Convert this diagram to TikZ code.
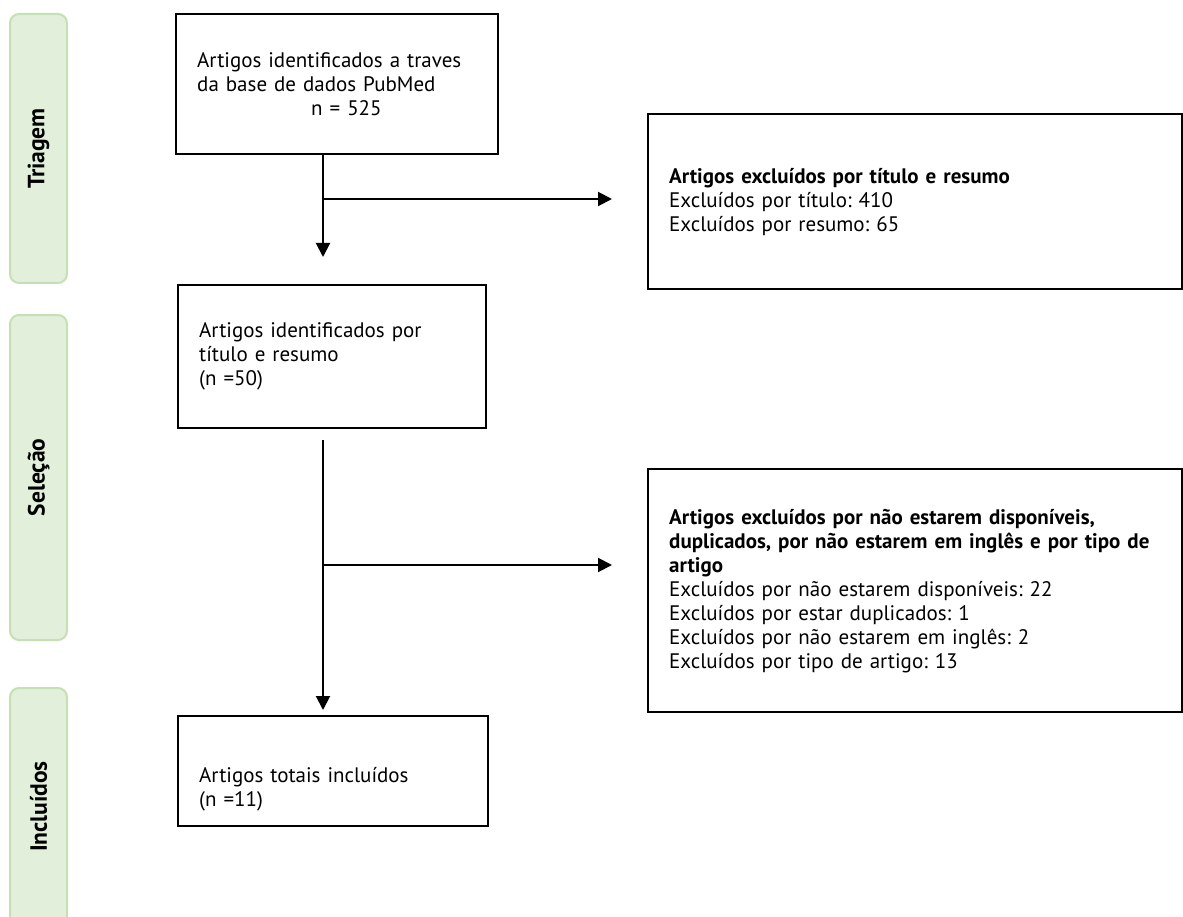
\documentclass[tikz,border=0pt]{standalone}
\usepackage{fontspec}
\setmainfont{PT Sans}
\frenchspacing
\usetikzlibrary{arrows.meta}
\definecolor{barfill}{HTML}{E2EFDA}
\definecolor{barline}{HTML}{C5E0B4}
\tikzset{pbar/.style={
  draw=barline,
  fill=barfill,
  line width=2pt,
  rounded corners=9pt,
  rotate=90,
  minimum height=57pt,
  font=\fontsize{23.5}{26}\selectfont\bfseries}}
\tikzset{pbox/.style={
  draw=black,
  line width=2.4pt,
  anchor=north west,
  inner xsep=21pt,
  align=left,
  font=\fontsize{21}{24}\selectfont}}
\tikzset{parrow/.style={
  line width=2pt,
  -{Triangle[length=14pt,width=14pt]}}}

\begin{document}
\begin{tikzpicture}[x=1pt,y=-1pt]

  %%%% Page frame %%%%
  \useasboundingbox (0,0) rectangle (1183,917);
  \clip (0,0) rectangle (1183,917);

  %% Phase bars on the left
  \node[pbar, minimum width=269pt] (triagem) at (38.5,148.5) {Triagem};
  \node[pbar, minimum width=325pt] (selecao) at (38.5,477.5) {Seleção};
  \node[pbar, minimum width=237pt] (incluidos) at (38.5,806.5) {Incluídos};

  %% Main column
  \node[pbox, text width=280pt, minimum height=140pt] (ident) at (175,13)
    {Artigos identificados a traves\\da base de dados PubMed\\\hspace*{114pt}n = 525};
  \node[pbox, text width=266pt, minimum height=143pt] (sel) at (177,284)
    {Artigos identificados por\\título e resumo\\(n =50)};
  \node[pbox, text width=268pt, minimum height=110pt] (incl) at (177,715)
    {\rule{0pt}{52pt}Artigos totais incluídos\\(n =11)};

  %% Excluded articles
  \node[pbox, text width=492pt, minimum height=175pt] (excl1) at (647,113)
    {\textbf{Artigos excluídos por título e resumo}\\
     Excluídos por título: 410\\
     Excluídos por resumo: 65};
  \node[pbox, text width=492pt, minimum height=243pt] (excl2) at (647,468)
    {\textbf{Artigos excluídos por não estarem disponíveis,}\\
     \textbf{duplicados, por não estarem em inglês e por tipo de}\\
     \textbf{artigo}\\
     Excluídos por não estarem disponíveis: 22\\
     Excluídos por estar duplicados: 1\\
     Excluídos por não estarem em inglês: 2\\
     Excluídos por tipo de artigo: 13};

  %% Connectors
  \coordinate (spine) at (323,0);
  \coordinate (fork1) at (323,199);
  \coordinate (fork2) at (323,565);
  \draw[parrow, shorten >=27pt] (ident.south -| spine) -- (sel.north -| spine);
  \draw[parrow, shorten >=35pt] (fork1) -- (excl1.west |- fork1);
  \draw[parrow, shorten <=11pt, shorten >=5pt] (sel.south -| spine) -- (incl.north -| spine);
  \draw[parrow, shorten >=35pt] (fork2) -- (excl2.west |- fork2);

\end{tikzpicture}
\end{document}
